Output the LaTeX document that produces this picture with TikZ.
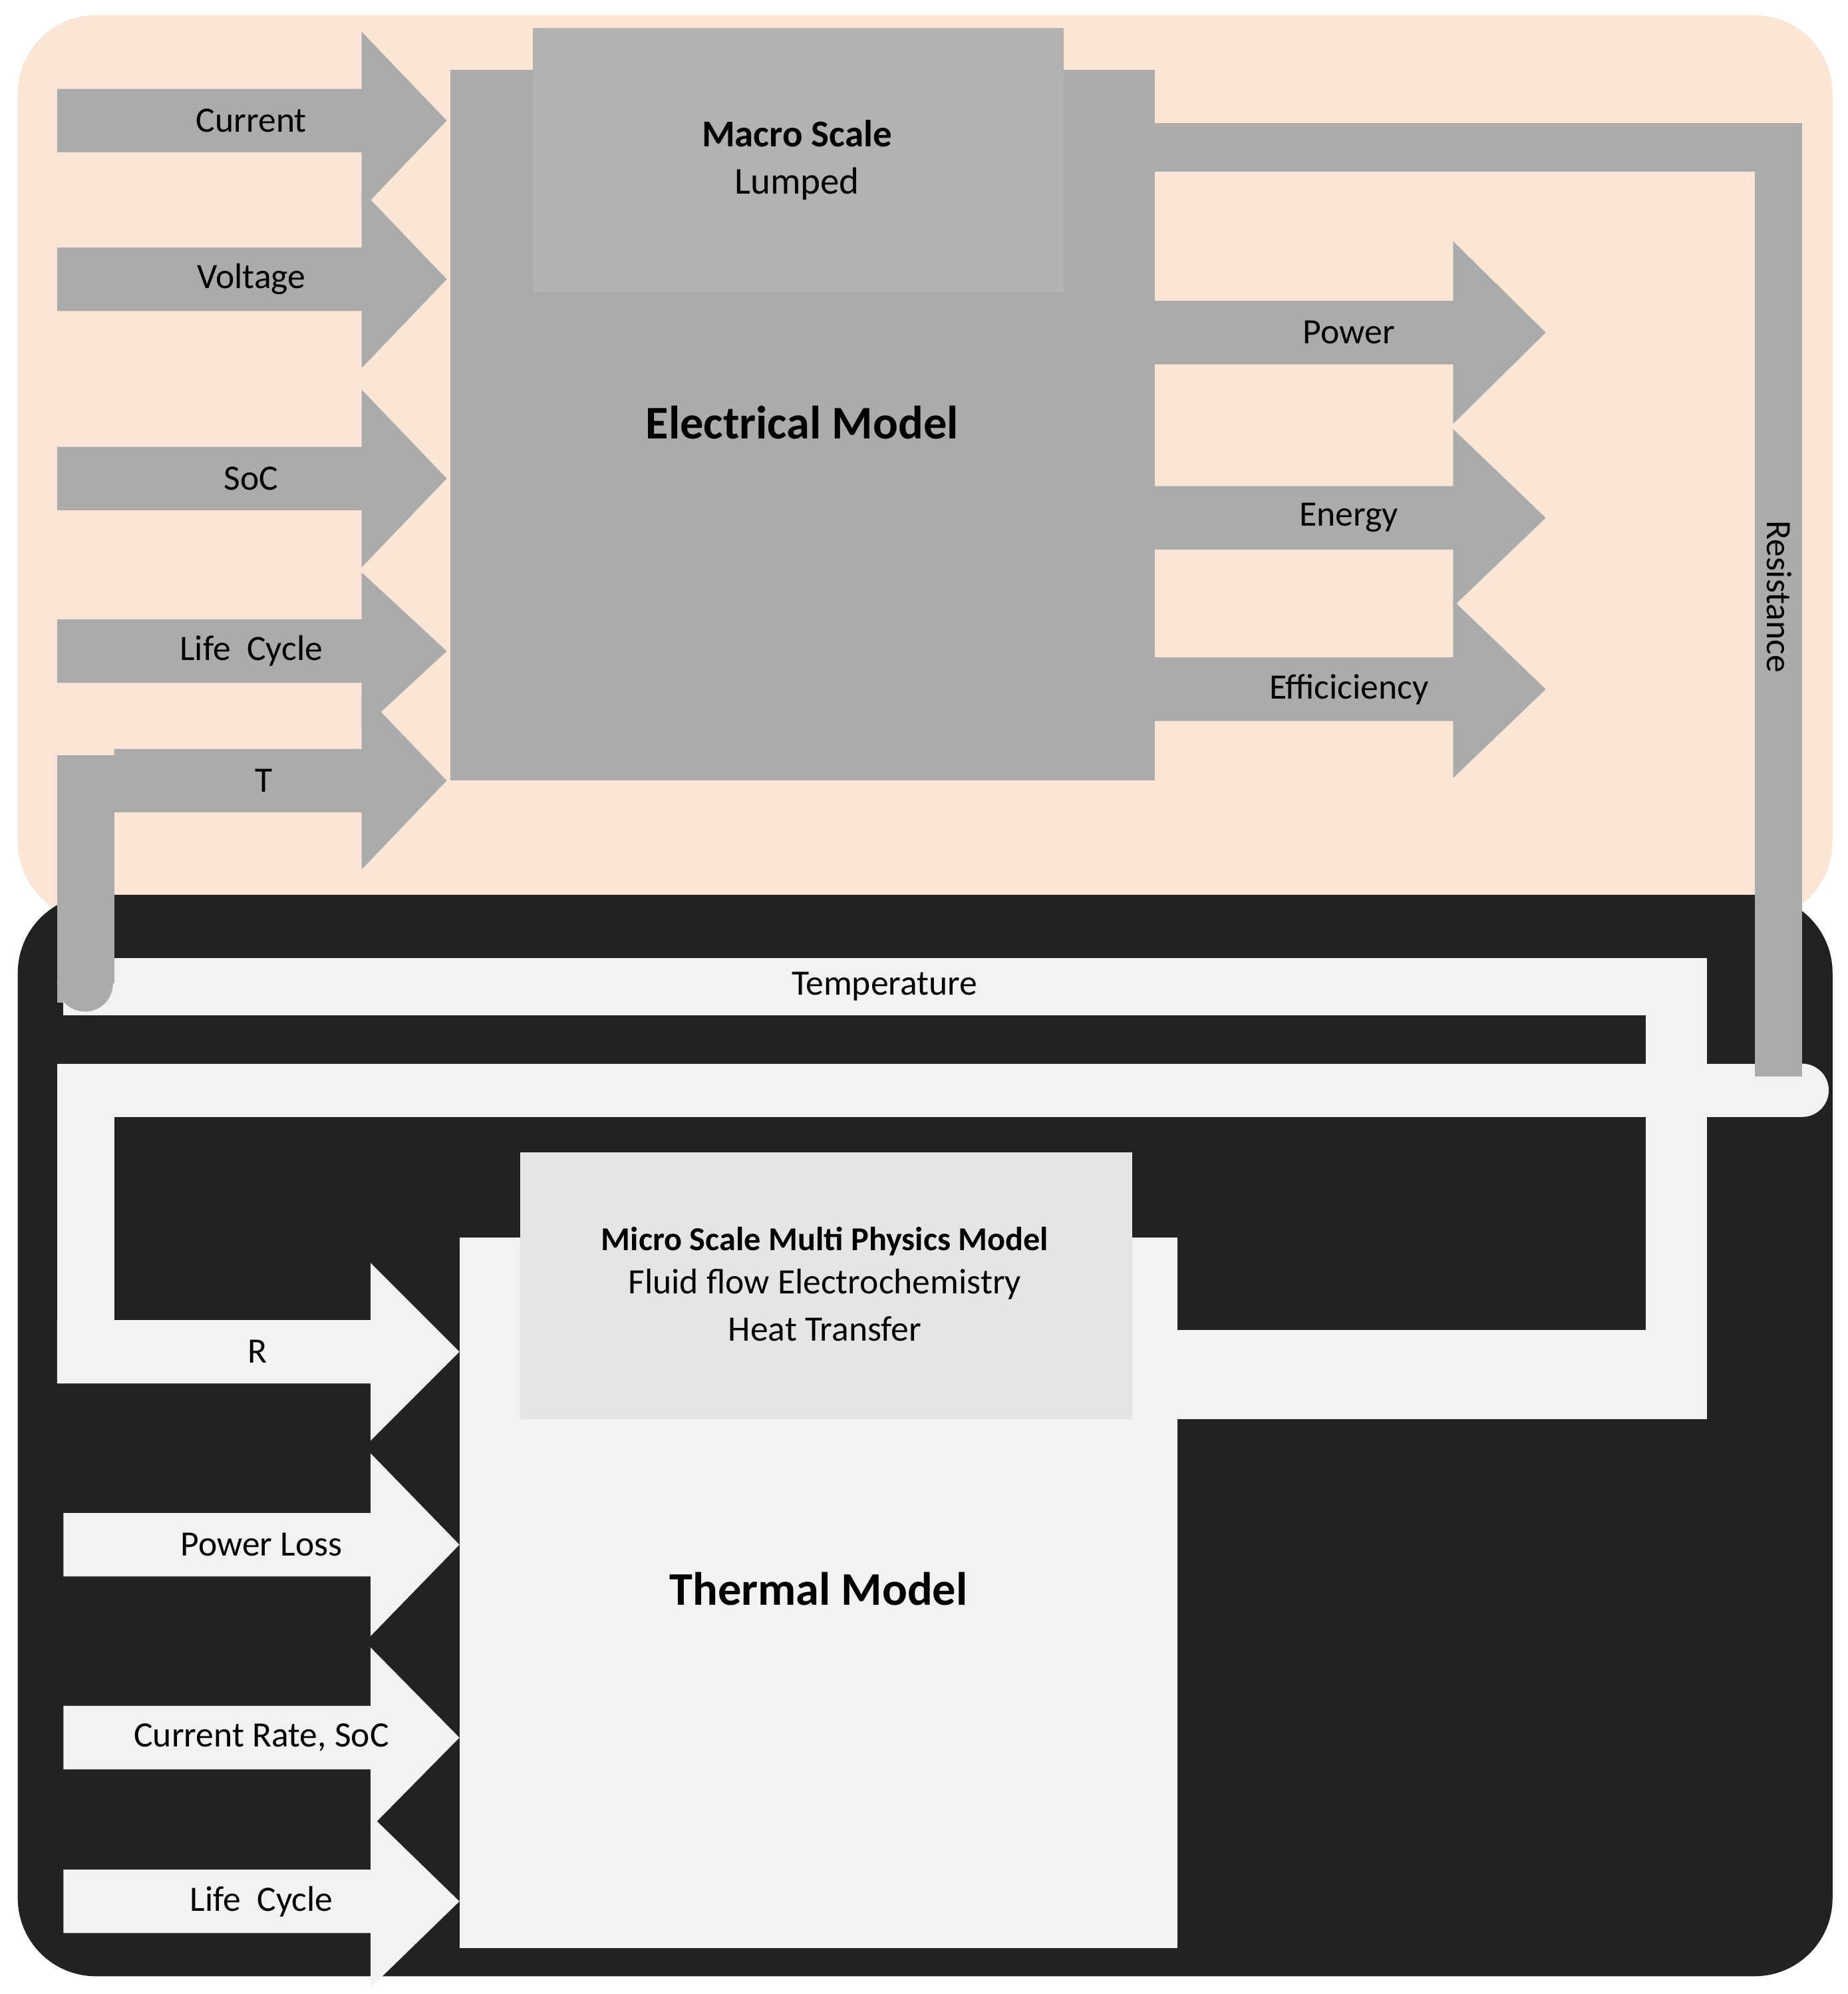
\documentclass[tikz,border=0pt]{standalone}
\usepackage{fontspec}
\setmainfont{Carlito}
\begin{document}
\begin{tikzpicture}[x=0.02cm,y=-0.02cm,
 lab/.style={font=\fontsize{16}{19}\selectfont},
 big/.style={font=\fontsize{21}{24}\selectfont\bfseries},
 mid/.style={font=\fontsize{17}{19}\selectfont\bfseries}]
\def\ar#1#2#3#4#5#6#7{\fill[#7] (#1,#4-#5)--(#2,#4-#5)--(#2,#4-#6)--(#3,#4)--(#2,#4+#6)--(#2,#4+#5)--(#1,#4+#5)--cycle;}
\useasboundingbox (0,0) rectangle (1456,1571);
\fill[white] (0,0) rectangle (1456,1571);
% backgrounds
\fill[rounded corners=35, fill={rgb,255:red,251;green,229;blue,214}] (14,12) rectangle (1444,725);
\fill[rounded corners=35, fill={rgb,255:red,34;green,34;blue,34}] (14,705) rectangle (1444,1557);
\colorlet{g}{black!33}
\colorlet{w}{black!5}
% electrical block
\fill[g] (355,55) rectangle (910,615);
\fill[black!30] (420,22) rectangle (838,230);
% resistance pipe
\fill[g] (910,97) rectangle (1420,135);
\fill[g] (1383,97) rectangle (1420,860);
\node[lab] (res) [rotate=-90] at (1402,470) {Resistance};
% T pipe
\fill[g] (45,595) rectangle (90,790);
% inputs
\ar{45}{285}{352}{95}{25}{70}{g}
\ar{45}{285}{352}{220}{25}{70}{g}
\ar{45}{285}{352}{377}{25}{70}{g}
\ar{45}{285}{352}{513}{25}{62}{g}
\ar{90}{285}{352}{615}{25}{70}{g}
% outputs
\ar{910}{1145}{1218}{262}{25}{72}{g}
\ar{910}{1145}{1218}{408}{25}{70}{g}
\ar{910}{1145}{1218}{543}{25}{70}{g}
\node[lab] (cur) at (198,95) {Current};
\node[lab] (vol) at (198,220) {Voltage};
\node[lab] (soc) at (198,377) {SoC};
\node[lab] (lc) at (198,513) {Life~ Cycle};
\node[lab] (t) at (208,615) {T};
\node[lab] (pw) at (1063,262) {Power};
\node[lab] (en) at (1063,408) {Energy};
\node[lab] (ef) at (1063,543) {Efficiciency};
\node[mid] (ms) at (628,105) {Macro Scale};
\node[lab,font=\fontsize{17}{19}\selectfont] (lu) at (628,145) {Lumped};
\node[big] (em) at (632,333) {Electrical Model};
% white pipes
\fill[w] (50,755) rectangle (1345,800);
\fill[w] (1297,755) rectangle (1345,1118);
\fill[w] (928,1048) rectangle (1345,1118);
\fill[g] (45,745) rectangle (90,775);
\fill[g] (67,775) circle (22);
\node[lab] (temp) at (697,777) {Temperature};
\fill[w] (45,838) rectangle (1420,880);
\fill[w] (1420,859) circle (21);
\fill[g] (1383,835) rectangle (1420,848);
\fill[w] (45,838) rectangle (90,1045);
% thermal block
\fill[w] (362,975) rectangle (928,1535);
\fill[black!10] (410,908) rectangle (892,1118);
\ar{45}{292}{362}{1065}{25}{70}{w}
\ar{50}{292}{362}{1217}{25}{72}{w}
\ar{50}{292}{362}{1369}{25}{71}{w}
\ar{50}{292}{362}{1498}{25}{68}{w}
\node[lab] (r) at (203,1065) {R};
\node[lab] (pl) at (206,1217) {Power Loss};
\node[lab] (cr) at (206,1369) {Current Rate, SoC};
\node[lab] (lc2) at (206,1498) {Life~ Cycle};
\node[mid,font=\fontsize{15}{17}\selectfont\bfseries] (mm) at (650,978) {Micro Scale Multi Physics Model};
\node[lab] (ff) at (650,1012) {Fluid flow Electrochemistry};
\node[lab] (ht) at (650,1047) {Heat Transfer};
\node[big] (tm) at (645,1252) {Thermal Model};
\end{tikzpicture}
\end{document}
